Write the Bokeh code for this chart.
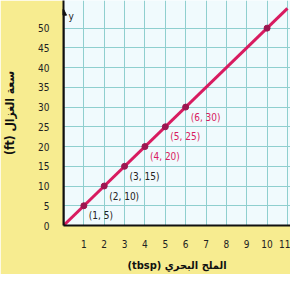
from bokeh.plotting import figure
from bokeh.models import ColumnDataSource, FixedTicker, Label, Arrow, NormalHead, Range1d
from bokeh.core.properties import value
from bokeh.embed import file_html
from bokeh.resources import INLINE

# data
salt_tbsp = [1, 2, 3, 4, 5, 6, 10]
amount = [5, 10, 15, 20, 25, 30, 50]
point_labels = ["(1, 5)", "(2, 10)", "(3, 15)", "(4, 20)", "(5, 25)", "(6, 30)", ""]
label_colors = ["#222222", "#222222", "#222222", "#d81b60", "#d81b60", "#d81b60", "#d81b60"]
line_x = [0, 11]
line_y = [0, 55]
x_ticks = [1, 2, 3, 4, 5, 6, 7, 8, 9, 10, 11]
y_ticks = [0, 5, 10, 15, 20, 25, 30, 35, 40, 45, 50]
x_title = "(tbsp) الملح البحري"
y_title = "(ft) سعة الغزال"

FONT = "DejaVu Sans Condensed"

p = figure(width=290, height=274, output_backend="svg", toolbar_location=None,
           x_range=Range1d(0, 11.15), y_range=Range1d(0, 57),
           min_border_left=63, min_border_right=0, min_border_top=0, min_border_bottom=39)
p.background_fill_color = "#f0fafd"
p.border_fill_color = "#f7ec90"
p.outline_line_color = None

p.xaxis.ticker = FixedTicker(ticks=x_ticks)
p.yaxis.ticker = FixedTicker(ticks=y_ticks)
for ax in (p.xaxis, p.yaxis):
    ax.axis_line_color = "#111111"
    ax.axis_line_width = 2
    ax.major_tick_line_color = None
    ax.minor_tick_line_color = None
    ax.major_label_text_font = FONT
    ax.major_label_text_font_size = "10px"
    ax.major_label_text_color = "#222222"
    ax.axis_label_text_font = FONT
    ax.axis_label_text_font_style = "bold"
    ax.axis_label_text_color = "#111111"
p.xaxis.axis_label_text_font_size = "11px"
p.yaxis.axis_label_text_font_size = "12px"
p.xaxis.major_label_standoff = 8
p.yaxis.major_label_standoff = 8
p.xaxis.axis_label = x_title
p.yaxis.axis_label = y_title
p.xaxis.axis_label_standoff = 8
p.yaxis.axis_label_standoff = 18

p.xgrid.ticker = FixedTicker(ticks=x_ticks)
p.ygrid.ticker = FixedTicker(ticks=y_ticks)
p.grid.grid_line_color = "#8fcfcf"
p.grid.grid_line_width = 1

p.add_layout(Arrow(end=NormalHead(size=6, fill_color="#111111", line_color="#111111"),
                   x_start=0, y_start=0, x_end=0, y_end=54.8,
                   line_color="#111111", line_width=2))
p.add_layout(Label(x=0, y=53, x_offset=5, text="y", text_font=FONT,
                   text_font_size="10px", text_color="#222222", text_baseline="middle"))

p.line(line_x, line_y, line_color="#d81b60", line_width=3)
src = ColumnDataSource(dict(x=salt_tbsp, y=amount, t=point_labels, c=label_colors))
p.scatter("x", "y", source=src, size=6, fill_color="#9c1650", line_color="#9c1650")
p.text("x", "y", text="t", source=src, text_color="c", x_offset=5, y_offset=10,
       text_font=value(FONT), text_font_size="10px", text_baseline="middle")

open("out.html", "w").write(file_html(p, INLINE))
